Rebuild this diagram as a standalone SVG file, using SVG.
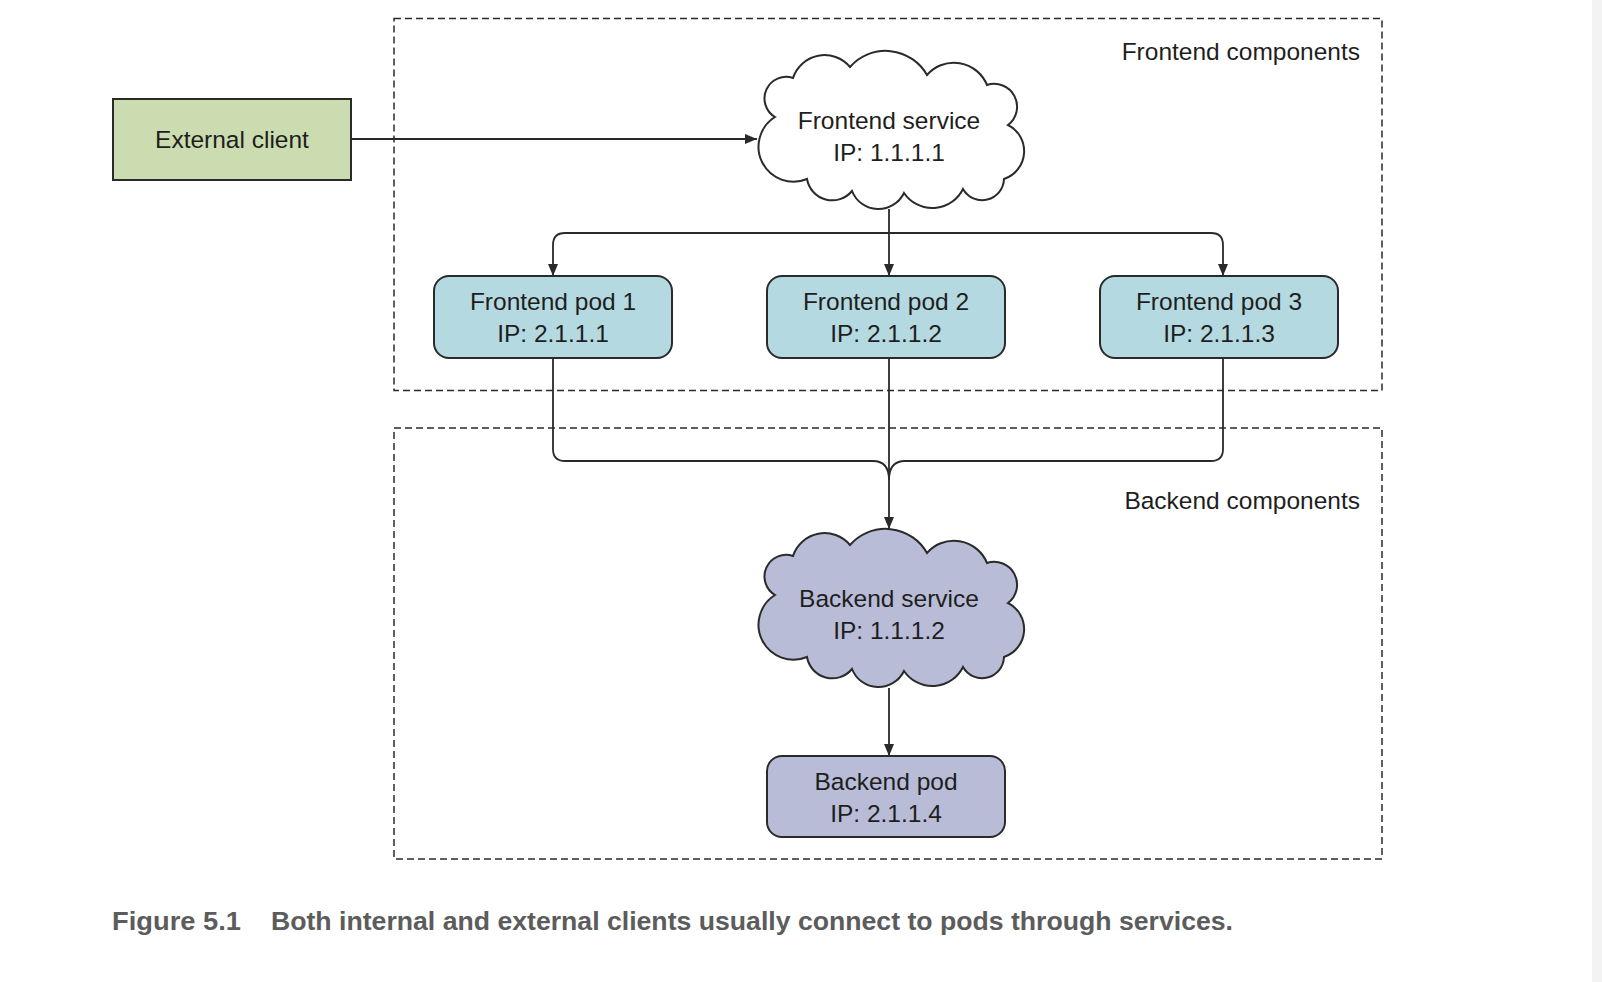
<svg xmlns="http://www.w3.org/2000/svg" width="1602" height="982" viewBox="0 0 1602 982">
  <style>
    .lbl { font-family: "Liberation Sans", Arial, sans-serif; font-size: 24.5px; fill: #1e1e1e; text-anchor: middle; }
    .grp { font-family: "Liberation Sans", Arial, sans-serif; font-size: 24.5px; fill: #1e1e1e; text-anchor: end; }
    .cap { font-family: "Liberation Sans", Arial, sans-serif; font-size: 26px; font-weight: bold; fill: #5c5c5c; }
    .zone { fill: none; stroke: #2a2a2a; stroke-width: 1.5; stroke-dasharray: 7 4; }
    .client { fill: #cbdcb0; stroke: #2a2a2a; stroke-width: 2; }
    .fpod { fill: #b5d9e0; stroke: #2a2a2a; stroke-width: 2; }
    .bpod { fill: #b8bcd6; stroke: #2a2a2a; stroke-width: 2; }
    .fcloud { fill: #ffffff; stroke: #2a2a2a; stroke-width: 2; }
    .bcloud { fill: #b8bcd6; stroke: #2a2a2a; stroke-width: 2; }
    .conn { fill: none; stroke: #2a2a2a; stroke-width: 1.8; }
  </style>
  <defs>
    <marker id="arr" viewBox="0 0 12 10" refX="12" refY="5" markerWidth="12" markerHeight="10" markerUnits="userSpaceOnUse" orient="auto">
      <path d="M0,0 L12,5 L0,10 Z" fill="#2a2a2a"/>
    </marker>
    <path id="cloud" d="M21,66 A21.6,21.6 0 0 1 39,27 A33.2,33.2 0 0 1 96,16 A47.5,47.5 0 0 1 173,24 A35.7,35.7 0 0 1 233,34 A22.9,22.9 0 0 1 254,74 A29.3,29.3 0 0 1 250,128 A21.9,21.9 0 0 1 209,138 A34.2,34.2 0 0 1 150,142 A28.4,28.4 0 0 1 98,140 A25.6,25.6 0 0 1 53,128 A35,35 0 0 1 21,66 Z"/>
  </defs>

  <rect x="0" y="0" width="1602" height="982" fill="#ffffff"/>
  <rect x="1592" y="0" width="10" height="982" fill="#f3f3f3"/>

  <g id="frontend-components">
    <rect class="zone" x="394" y="18.5" width="988" height="372"/>
    <text class="grp" x="1360" y="59.5">Frontend components</text>
  </g>
  <g id="backend-components">
    <rect class="zone" x="394" y="428" width="988" height="431"/>
    <text class="grp" x="1360" y="509">Backend components</text>
  </g>

  <g id="connectors">
    <path class="conn" d="M351,139 H757" marker-end="url(#arr)"/>
    <path class="conn" d="M889,209 V276" marker-end="url(#arr)"/>
    <path class="conn" d="M889,233 H565 Q553,233 553,245 V276" marker-end="url(#arr)"/>
    <path class="conn" d="M889,233 H1211 Q1223,233 1223,245 V276" marker-end="url(#arr)"/>
    <path class="conn" d="M553,358 V449 Q553,461 565,461 H873 Q889,461 889,480"/>
    <path class="conn" d="M1223,358 V449 Q1223,461 1211,461 H905 Q889,461 889,480"/>
    <path class="conn" d="M889,358 V529" marker-end="url(#arr)"/>
    <path class="conn" d="M889,688 V756" marker-end="url(#arr)"/>
  </g>

  <g id="external-client">
    <rect class="client" x="113" y="99" width="238" height="81"/>
    <text class="lbl" x="232" y="148">External client</text>
  </g>

  <g id="frontend-service">
    <use href="#cloud" class="fcloud" transform="translate(754,51)"/>
    <text class="lbl" x="889" y="129">Frontend service</text>
    <text class="lbl" x="889" y="161">IP: 1.1.1.1</text>
  </g>

  <g id="frontend-pod-1">
    <rect class="fpod" x="434" y="276" width="238" height="82" rx="15"/>
    <text class="lbl" x="553" y="310">Frontend pod 1</text>
    <text class="lbl" x="553" y="342">IP: 2.1.1.1</text>
  </g>
  <g id="frontend-pod-2">
    <rect class="fpod" x="767" y="276" width="238" height="82" rx="15"/>
    <text class="lbl" x="886" y="310">Frontend pod 2</text>
    <text class="lbl" x="886" y="342">IP: 2.1.1.2</text>
  </g>
  <g id="frontend-pod-3">
    <rect class="fpod" x="1100" y="276" width="238" height="82" rx="15"/>
    <text class="lbl" x="1219" y="310">Frontend pod 3</text>
    <text class="lbl" x="1219" y="342">IP: 2.1.1.3</text>
  </g>

  <g id="backend-service">
    <use href="#cloud" class="bcloud" transform="translate(754,529)"/>
    <text class="lbl" x="889" y="607">Backend service</text>
    <text class="lbl" x="889" y="639">IP: 1.1.1.2</text>
  </g>

  <g id="backend-pod">
    <rect class="bpod" x="767" y="756" width="238" height="81" rx="15"/>
    <text class="lbl" x="886" y="789.5">Backend pod</text>
    <text class="lbl" x="886" y="821.5">IP: 2.1.1.4</text>
  </g>

  <g id="caption">
    <text class="cap" x="112" y="930" textLength="129" lengthAdjust="spacingAndGlyphs">Figure 5.1</text>
    <text class="cap" x="271" y="930" textLength="962" lengthAdjust="spacingAndGlyphs">Both internal and external clients usually connect to pods through services.</text>
  </g>
</svg>
